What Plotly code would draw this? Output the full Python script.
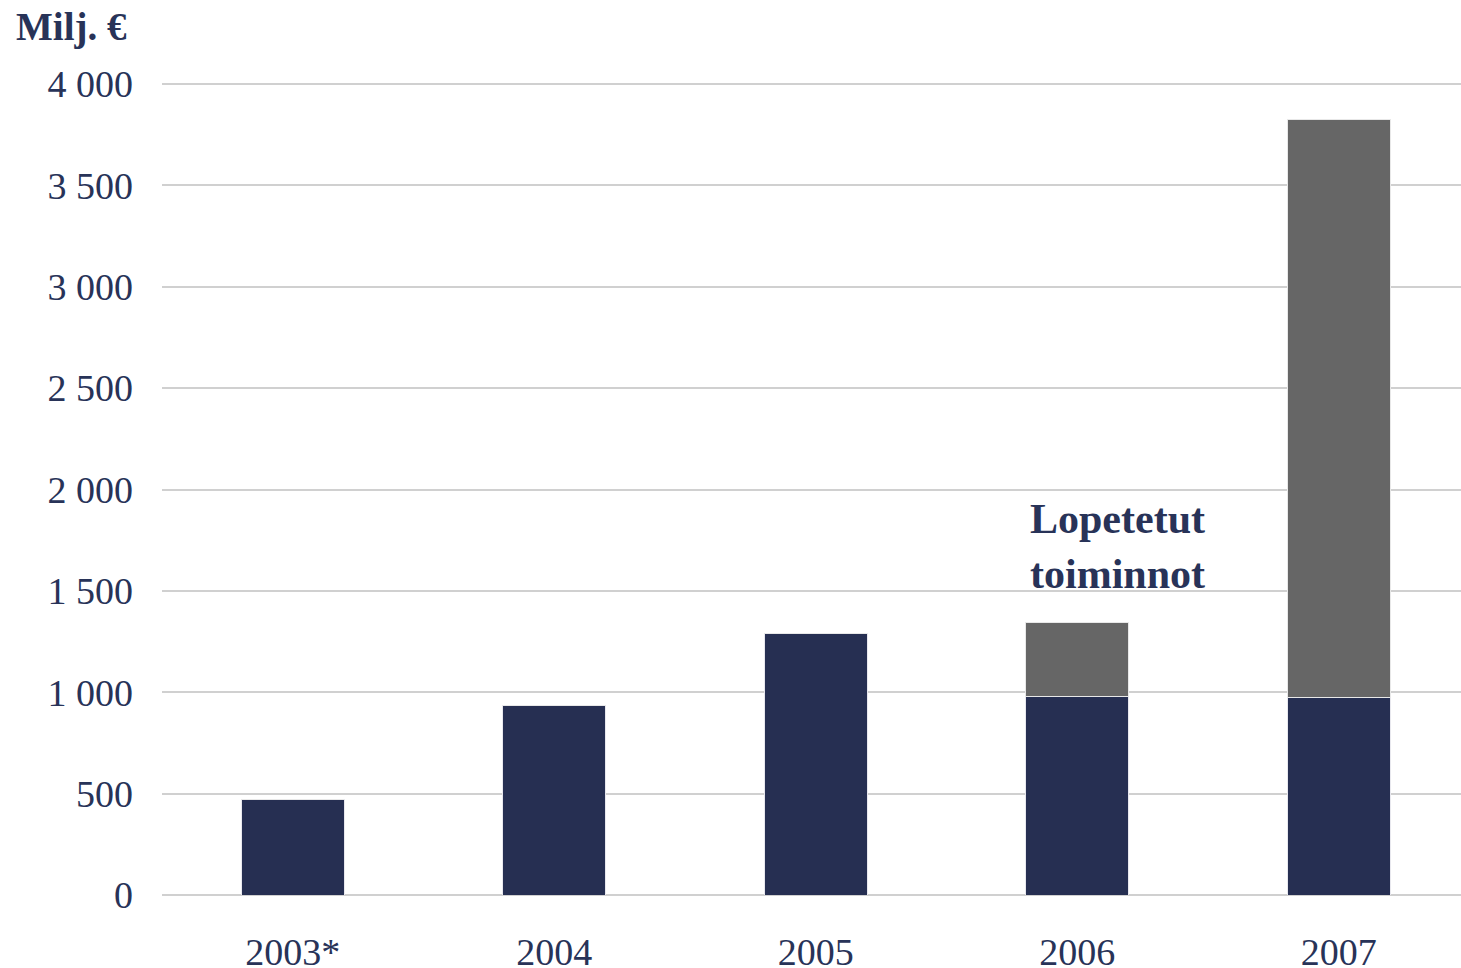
import plotly.graph_objects as go

years = ["2003*", "2004", "2005", "2006", "2007"]
continuing = [473, 937, 1292, 981, 972]
discontinued = [0, 0, 0, 365, 2855]
y_ticks = [0, 500, 1000, 1500, 2000, 2500, 3000, 3500, 4000]
y_tick_labels = ["0", "500", "1 000", "1 500", "2 000", "2 500", "3 000", "3 500", "4 000"]

navy = "#262f52"
gray = "#666666"
text_col = "#283358"
font_family = "Liberation Serif, Times New Roman, serif"

fig = go.Figure()
fig.add_trace(go.Bar(x=years, y=continuing, marker=dict(color=navy, line=dict(color="#e8e8ee", width=1)),
                     width=0.394, showlegend=False, hoverinfo="y"))
fig.add_trace(go.Bar(x=years, y=discontinued, marker=dict(color=gray, line=dict(color="#e8e8e8", width=1)),
                     width=0.394, showlegend=False, hoverinfo="y"))

# y=0 at pixel 895, y=4000 at pixel 84 -> 0.20275 px per unit
ymax = 4020
plot_h = 811 * ymax / 4000
fig.update_layout(
    barmode="stack",
    width=1461, height=968,
    margin=dict(l=162, r=0, t=968 - 73 - plot_h, b=73, autoexpand=False),
    plot_bgcolor="white", paper_bgcolor="white",
    font=dict(family=font_family, color=text_col, size=38),
    xaxis=dict(range=[-0.5, -0.5 + 1299 / 261.5], showgrid=False, showline=False, ticks="",
               ticklabelstandoff=31, automargin=False,
               tickfont=dict(size=38, color=text_col)),
    yaxis=dict(range=[0, ymax], tickvals=y_ticks, ticktext=y_tick_labels, showgrid=True,
               gridcolor="#d0d0d0", gridwidth=2,
               zeroline=True, zerolinecolor="#d0d0d0", zerolinewidth=2,
               ticks="", ticklabelstandoff=28, automargin=False,
               tickfont=dict(size=38, color=text_col)),
    annotations=[
        dict(text="<b>Milj. €</b>", xref="paper", yref="paper", x=(14 - 162) / 1299, y=(895 - 27) / plot_h,
             xanchor="left", yanchor="middle", showarrow=False, font=dict(size=39, color=text_col, family=font_family)),
        dict(text="<b>Lopetetut<br>toiminnot</b>", xref="paper", yref="y", x=(1028 - 162) / 1299, y=(895 - 546) / 0.20275,
             xanchor="left", yanchor="middle", align="left", showarrow=False,
             font=dict(size=42, color=text_col, family=font_family)),
    ],
)

fig.write_html("out.html", config={"displayModeBar": False},
               post_script="document.body.style.margin='0';document.body.style.overflow='hidden';")
